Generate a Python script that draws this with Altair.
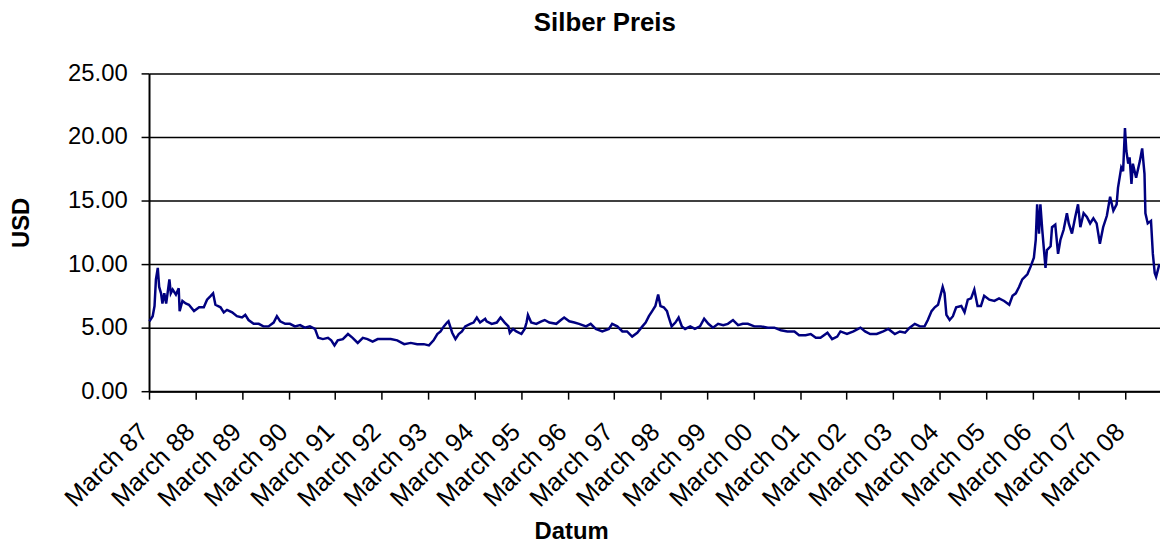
import altair as alt
import pandas as pd

# decimal years and silver price (USD)
years = [
    1987.17, 1987.24, 1987.28, 1987.31, 1987.35, 1987.38, 1987.42, 1987.45, 1987.49, 1987.53,
    1987.56, 1987.60, 1987.63, 1987.67, 1987.74, 1987.80, 1987.82, 1987.88, 1987.95, 1988.02,
    1988.13, 1988.24, 1988.34, 1988.41, 1988.49, 1988.54, 1988.59, 1988.70, 1988.77, 1988.84,
    1988.95, 1989.05, 1989.16, 1989.23, 1989.30, 1989.41, 1989.52, 1989.62, 1989.73, 1989.84,
    1989.91, 1989.98, 1990.09, 1990.19, 1990.30, 1990.41, 1990.51, 1990.62, 1990.73, 1990.80,
    1990.90, 1991.01, 1991.08, 1991.15, 1991.22, 1991.33, 1991.44, 1991.54, 1991.65, 1991.76,
    1991.86, 1991.97, 1992.08, 1992.22, 1992.36, 1992.50, 1992.65, 1992.79, 1992.93, 1993.07,
    1993.18, 1993.28, 1993.36, 1993.43, 1993.50, 1993.57, 1993.60, 1993.68, 1993.75, 1993.82,
    1993.89, 1993.96, 1994.07, 1994.14, 1994.21, 1994.28, 1994.39,
    1994.42, 1994.53, 1994.64, 1994.72, 1994.81, 1994.89, 1994.92, 1994.99, 1995.06, 1995.17,
    1995.24, 1995.28, 1995.31, 1995.38, 1995.49, 1995.60, 1995.67, 1995.77, 1995.92, 1996.02,
    1996.09, 1996.20, 1996.31, 1996.41, 1996.56, 1996.66, 1996.77, 1996.91, 1997.05, 1997.12,
    1997.23, 1997.34, 1997.44, 1997.55, 1997.66, 1997.77, 1997.84, 1997.91, 1997.98, 1998.05,
    1998.11, 1998.16, 1998.23, 1998.30, 1998.33, 1998.40, 1998.48, 1998.55, 1998.62, 1998.69,
    1998.80, 1998.90, 1999.01, 1999.10, 1999.19, 1999.29, 1999.40, 1999.51, 1999.61, 1999.72,
    1999.83, 1999.93, 2000.04, 2000.18, 2000.32, 2000.47, 2000.61, 2000.75, 2000.89, 2001.04,
    2001.14, 2001.28, 2001.39, 2001.50,
    2001.60, 2001.75, 2001.85, 2001.96, 2002.03, 2002.17, 2002.31, 2002.46, 2002.56, 2002.67,
    2002.81, 2002.95, 2003.06, 2003.20, 2003.31, 2003.42, 2003.52, 2003.63, 2003.74, 2003.84,
    2003.91, 2003.99, 2004.06, 2004.13, 2004.18, 2004.23, 2004.27, 2004.31, 2004.38, 2004.45,
    2004.52, 2004.63, 2004.70, 2004.77, 2004.84, 2004.91, 2004.98, 2005.05, 2005.12, 2005.23,
    2005.34, 2005.44, 2005.55, 2005.66, 2005.73, 2005.80, 2005.87, 2005.94, 2006.05, 2006.12,
    2006.19, 2006.23, 2006.26, 2006.30, 2006.33, 2006.37, 2006.40, 2006.44, 2006.47, 2006.55,
    2006.58, 2006.65, 2006.71, 2006.76, 2006.83, 2006.90, 2006.94, 2007.01, 2007.08, 2007.14,
    2007.19, 2007.26, 2007.33, 2007.40, 2007.47, 2007.54, 2007.61, 2007.68, 2007.76, 2007.83,
    2007.90, 2007.97, 2008.00, 2008.07, 2008.11, 2008.15, 2008.18, 2008.22, 2008.25, 2008.29,
    2008.32, 2008.39, 2008.47, 2008.52, 2008.57, 2008.59, 2008.64, 2008.71, 2008.75, 2008.79,
    2008.82, 2008.89,
]
prices = [
    5.5, 5.9, 6.7, 8.8, 9.7, 8.2, 7.7, 6.9, 7.7, 6.9,
    7.7, 8.8, 7.7, 8.0, 7.6, 8.1, 6.3, 7.1, 6.9, 6.8,
    6.3, 6.6, 6.6, 7.2, 7.5, 7.7, 6.8, 6.6, 6.2, 6.4,
    6.2, 5.9, 5.8, 6.0, 5.6, 5.3, 5.3, 5.1, 5.1, 5.4,
    5.9, 5.5, 5.3, 5.3, 5.1, 5.2, 5.0, 5.1, 4.9, 4.2,
    4.1, 4.2, 4.0, 3.6, 4.0, 4.1, 4.5, 4.2, 3.8, 4.2,
    4.1, 3.9, 4.1, 4.1, 4.1, 4.0, 3.7, 3.8, 3.7, 3.7,
    3.6, 4.0, 4.5, 4.7, 5.1, 5.4, 5.5, 4.6, 4.1, 4.5,
    4.7, 5.1, 5.3, 5.4, 5.8, 5.4, 5.7,
    5.5, 5.3, 5.4, 5.8, 5.4, 5.1, 4.6, 4.9, 4.7, 4.5,
    4.9, 5.4, 6.0, 5.4, 5.3, 5.5, 5.6, 5.4, 5.3, 5.6,
    5.8, 5.5, 5.4, 5.3, 5.1, 5.3, 4.9, 4.7, 4.9, 5.3,
    5.1, 4.7, 4.7, 4.3, 4.6, 5.1, 5.4, 5.9, 6.3, 6.7,
    7.6, 6.7, 6.6, 6.3, 5.9, 5.1, 5.4, 5.8, 5.1, 4.9,
    5.1, 4.9, 5.1, 5.7, 5.3, 5.0, 5.3, 5.2, 5.3, 5.6,
    5.2, 5.3, 5.3, 5.1, 5.1, 5.0, 5.0, 4.8, 4.7, 4.7,
    4.4, 4.4, 4.5, 4.2,
    4.2, 4.6, 4.1, 4.3, 4.7, 4.5, 4.7, 5.0, 4.7, 4.5,
    4.5, 4.7, 4.9, 4.5, 4.7, 4.6, 5.0, 5.3, 5.1, 5.1,
    5.6, 6.3, 6.6, 6.8, 7.5, 8.2, 7.7, 6.0, 5.6, 5.9,
    6.6, 6.7, 6.2, 7.2, 7.3, 8.0, 6.7, 6.7, 7.5, 7.2,
    7.1, 7.3, 7.1, 6.8, 7.5, 7.7, 8.2, 8.8, 9.2, 9.8,
    10.5, 11.9, 14.7, 12.4, 14.7, 12.7, 11.4, 9.7, 11.1, 11.4,
    12.9, 13.1, 10.8, 11.9, 12.7, 14.0, 13.2, 12.4, 13.7, 14.7,
    12.9, 14.0, 13.7, 13.2, 13.6, 13.2, 11.6, 12.9, 13.8, 15.3,
    14.2, 14.7, 16.0, 17.6, 17.3, 20.7, 18.9, 17.9, 18.4, 16.3,
    17.9, 16.8, 18.1, 19.1, 17.1, 14.0, 13.2, 13.4, 10.8, 9.3,
    9.0, 10.0,
]
tick_years = list(range(1987, 2009))
y_ticks = [0, 5, 10, 15, 20, 25]


def to_date(y):
    yr = int(y)
    ts = pd.Timestamp(yr, 1, 1) + pd.Timedelta(days=(y - yr) * 365.25)
    return ts.strftime("%Y-%m-%dT%H:%M:%S")


df = pd.DataFrame({"Datum": [to_date(y) for y in years], "USD": prices})

FONT = "Liberation Sans"

chart = (
    alt.Chart(df)
    .mark_line(color="#000080", strokeWidth=2.5)
    .encode(
        x=alt.X(
            "Datum:T",
            scale=alt.Scale(
                domain=[
                    alt.DateTime(year=1987, month=3, date=1),
                    alt.DateTime(year=2008, month=11, date=26),
                ]
            ),
            axis=alt.Axis(
                title="Datum",
                values=[alt.DateTime(year=y, month=3, date=1) for y in tick_years],
                format="%B %y",
                labelAngle=-45,
                labelAlign="right",
                labelBaseline="top",
                labelOffset=-14,
                labelPadding=20,
                labelFontSize=25.5,
                labelFont=FONT,
                labelColor="black",
                labelOverlap=False,
                labelFlush=False,
                labelBound=False,
                tickSize=8,
                tickColor="black",
                tickWidth=1.5,
                domainColor="black",
                domainWidth=2,
                grid=False,
                titleFont=FONT,
                titleFontSize=24,
                titleFontWeight="bold",
                titleColor="black",
                titleX=425,
                titleY=148,
                titleAlign="center",
                titleBaseline="alphabetic",
            ),
        ),
        y=alt.Y(
            "USD:Q",
            scale=alt.Scale(domain=[0, 25], nice=False),
            axis=alt.Axis(
                title="USD",
                values=y_ticks,
                format=".2f",
                labelFontSize=24,
                labelFont=FONT,
                labelColor="black",
                labelPadding=14,
                tickSize=8,
                tickColor="black",
                tickWidth=1.5,
                domainColor="black",
                domainWidth=2,
                grid=True,
                gridColor="black",
                gridWidth=1.5,
                titleFont=FONT,
                titleFontSize=24,
                titleFontWeight="bold",
                titleColor="black",
                titleAngle=-90,
                titleX=-121,
                titleY=150,
                titleAlign="center",
                titleBaseline="alphabetic",
            ),
        ),
    )
    .properties(
        width=1018,
        height=320,
        title=alt.TitleParams(
            "Silber Preis",
            font=FONT,
            fontSize=26,
            fontWeight="bold",
            color="black",
            anchor="middle",
            dx=-50,
            dy=25,
            baseline="alphabetic",
            offset=30,
        ),
        autosize=alt.AutoSizeParams(type="none"),
        padding={"left": 142, "top": 64, "right": 0, "bottom": 153},
    )
    .configure_view(strokeWidth=0)
)

chart.save("out.html", embed_options={"renderer": "svg", "actions": False})
